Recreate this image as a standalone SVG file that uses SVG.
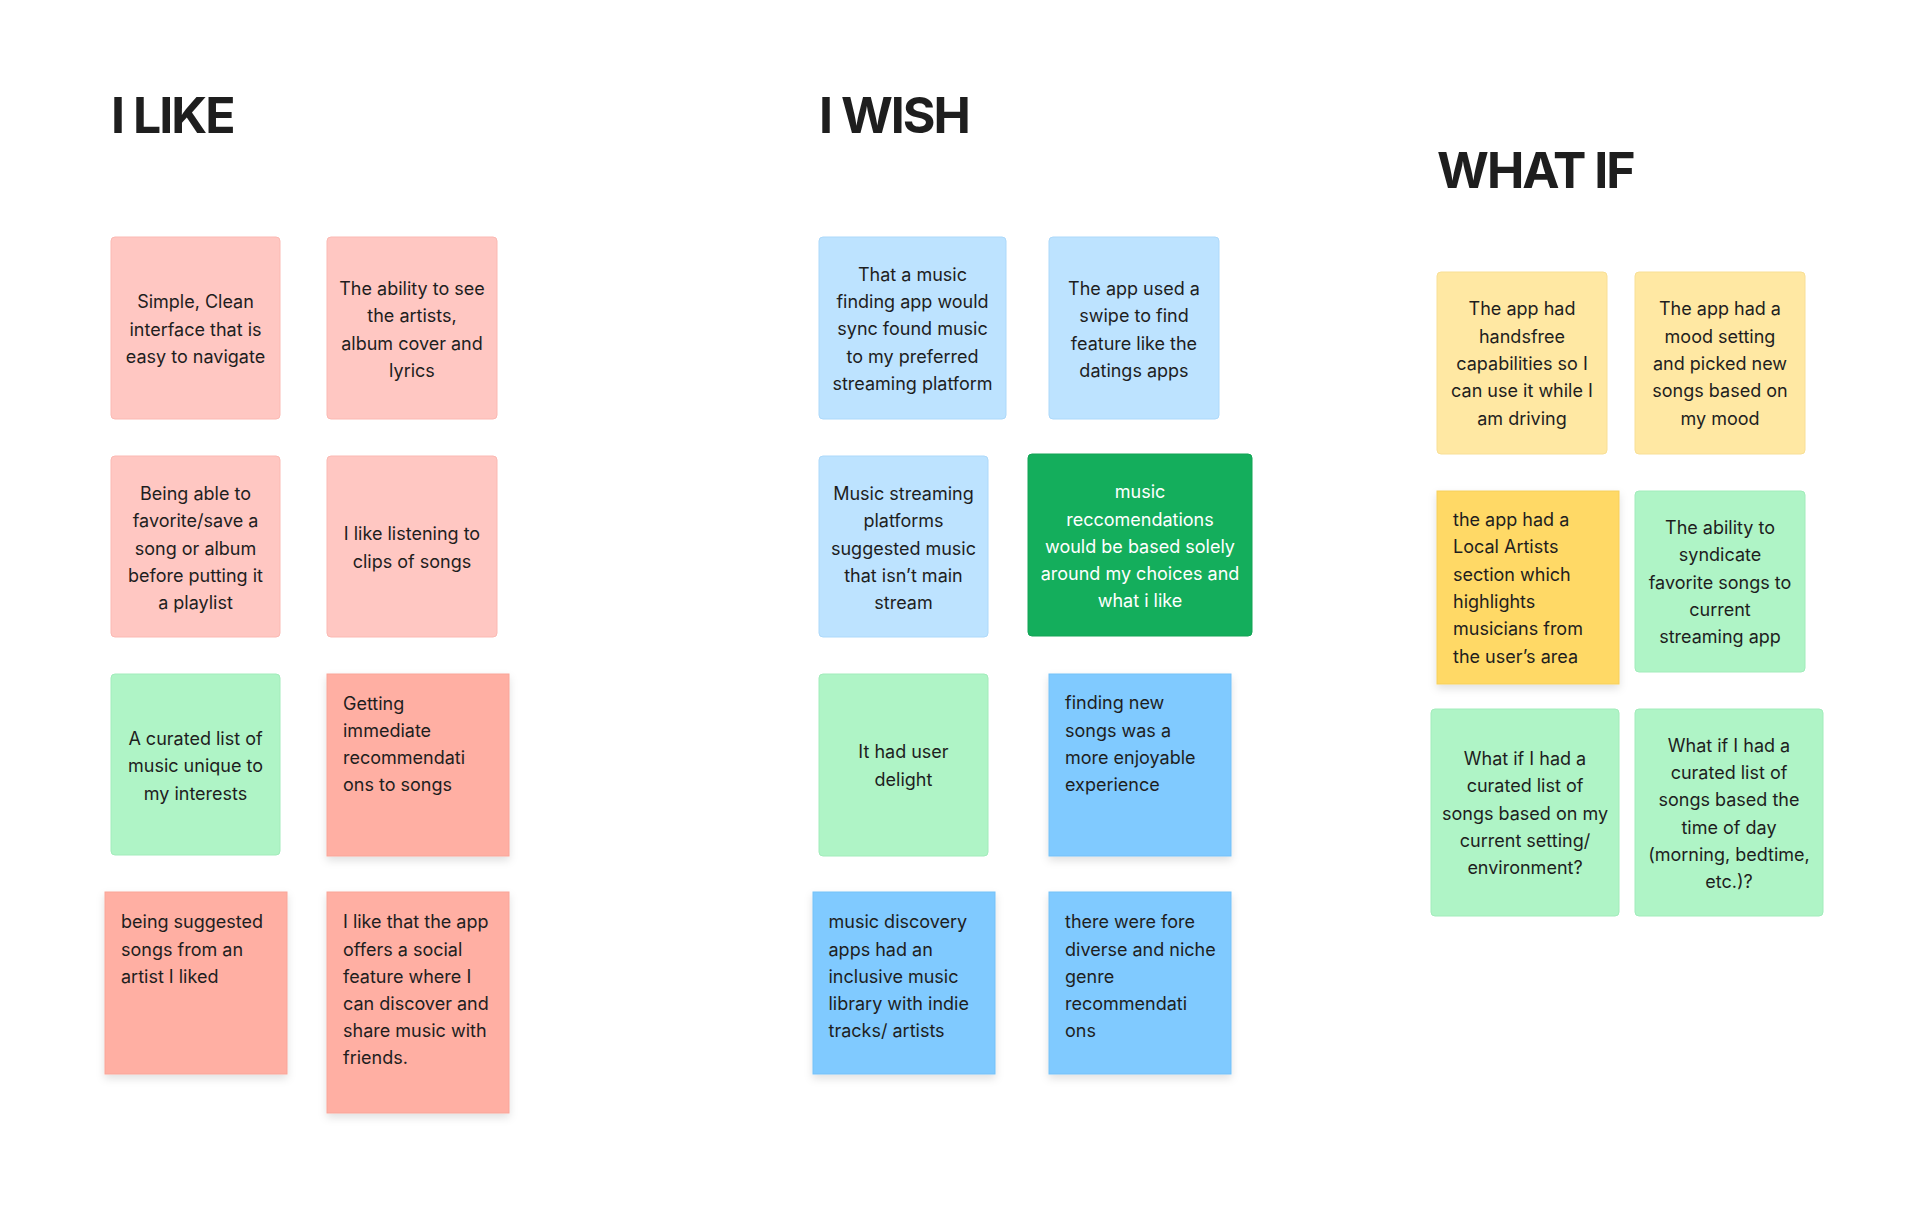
<svg xmlns="http://www.w3.org/2000/svg" width="1920" height="1224" viewBox="0 0 1920 1224">
<defs>
<style>
.title{font-family:Inter,"Liberation Sans",sans-serif;font-weight:700;font-size:50px;fill:#1e1e1e;letter-spacing:-2px}
.t{font-family:Inter,"Liberation Sans",sans-serif;font-size:18px;fill:#1e1e1e}
.c{text-anchor:middle}
.w{fill:#ffffff}
.pink{fill:#ffc7c2;stroke:#fbb9b3;stroke-width:1}
.salmon{fill:#ffafa3;stroke:#f9a598;stroke-width:1}
.lblue{fill:#bde3ff;stroke:#add9fa;stroke-width:1}
.blue{fill:#80caff;stroke:#74c1f8;stroke-width:1}
.lgreen{fill:#aff4c6;stroke:#a2ecbb;stroke-width:1}
.dgreen{fill:#14ae5c;stroke:#12a455;stroke-width:1}
.lyellow{fill:#ffe8a3;stroke:#f8df96;stroke-width:1}
.yellow{fill:#ffd966;stroke:#f6cf5c;stroke-width:1}
</style>
<filter id="sh" x="-20%" y="-20%" width="140%" height="150%">
<feDropShadow dx="0" dy="4" stdDeviation="4" flood-color="#000" flood-opacity="0.12"/>
</filter>
</defs>
<rect width="1920" height="1224" fill="#ffffff"/>

<text class="title" x="111" y="133">I LIKE</text>
<text class="title" x="819" y="133">I WISH</text>
<text class="title" x="1437" y="188">WHAT IF</text>

<g id="like1"><rect class="pink" x="111" y="237" width="169" height="182" rx="4"/>
<text class="t c" x="195.5"><tspan x="195.5" y="308">Simple, Clean</tspan><tspan x="195.5" y="335.5">interface that is</tspan><tspan x="195.5" y="362.5">easy to navigate</tspan></text></g>

<g id="like2"><rect class="pink" x="327" y="237" width="170" height="182" rx="4"/>
<text class="t c"><tspan x="412" y="295">The ability to see</tspan><tspan x="412" y="322.3">the artists,</tspan><tspan x="412" y="349.5">album cover and</tspan><tspan x="412" y="376.5">lyrics</tspan></text></g>

<g id="like3"><rect class="pink" x="111" y="456" width="169" height="181" rx="4"/>
<text class="t c"><tspan x="195.5" y="500">Being able to</tspan><tspan x="195.5" y="527.3">favorite/save a</tspan><tspan x="195.5" y="554.5">song or album</tspan><tspan x="195.5" y="581.7">before putting it</tspan><tspan x="195.5" y="609">a playlist</tspan></text></g>

<g id="like4"><rect class="pink" x="327" y="456" width="170" height="181" rx="4"/>
<text class="t c"><tspan x="412" y="540">I like listening to</tspan><tspan x="412" y="567.5">clips of songs</tspan></text></g>

<g id="like5"><rect class="lgreen" x="111" y="674" width="169" height="181" rx="4"/>
<text class="t c"><tspan x="195.5" y="745">A curated list of</tspan><tspan x="195.5" y="772.3">music unique to</tspan><tspan x="195.5" y="799.5">my interests</tspan></text></g>

<g id="like6"><rect class="salmon" x="327" y="674" width="182" height="182" filter="url(#sh)"/>
<text class="t"><tspan x="343" y="710">Getting</tspan><tspan x="343" y="737">immediate</tspan><tspan x="343" y="764">recommendati</tspan><tspan x="343" y="791">ons to songs</tspan></text></g>

<g id="like7"><rect class="salmon" x="105" y="892" width="182" height="182" filter="url(#sh)"/>
<text class="t"><tspan x="121" y="928.3">being suggested</tspan><tspan x="121" y="955.7">songs from an</tspan><tspan x="121" y="982.7">artist I liked</tspan></text></g>

<g id="like8"><rect class="salmon" x="327" y="892" width="182" height="221" filter="url(#sh)"/>
<text class="t"><tspan x="343" y="928.3">I like that the app</tspan><tspan x="343" y="955.7">offers a social</tspan><tspan x="343" y="982.7">feature where I</tspan><tspan x="343" y="1010">can discover and</tspan><tspan x="343" y="1037.3">share music with</tspan><tspan x="343" y="1064.3">friends.</tspan></text></g>

<g id="wish1"><rect class="lblue" x="819" y="237" width="187" height="182" rx="4"/>
<text class="t c"><tspan x="912.5" y="280.7">That a music</tspan><tspan x="912.5" y="308.3">finding app would</tspan><tspan x="912.5" y="335.3">sync found music</tspan><tspan x="912.5" y="362.7">to my preferred</tspan><tspan x="912.5" y="390">streaming platform</tspan></text></g>

<g id="wish2"><rect class="lblue" x="1049" y="237" width="170" height="182" rx="4"/>
<text class="t c"><tspan x="1134" y="295">The app used a</tspan><tspan x="1134" y="322.3">swipe to find</tspan><tspan x="1134" y="349.5">feature like the</tspan><tspan x="1134" y="376.5">datings apps</tspan></text></g>

<g id="wish3"><rect class="lblue" x="819" y="456" width="169" height="181" rx="4"/>
<text class="t c"><tspan x="903.5" y="500">Music streaming</tspan><tspan x="903.5" y="527.3">platforms</tspan><tspan x="903.5" y="554.5">suggested music</tspan><tspan x="903.5" y="581.7">that isn’t main</tspan><tspan x="903.5" y="609">stream</tspan></text></g>

<g id="wish4"><rect class="dgreen" x="1028" y="454" width="224" height="182" rx="4"/>
<text class="t c w"><tspan x="1140" y="498.3">music</tspan><tspan x="1140" y="525.7">reccomendations</tspan><tspan x="1140" y="552.7">would be based solely</tspan><tspan x="1140" y="580">around my choices and</tspan><tspan x="1140" y="607">what i like</tspan></text></g>

<g id="wish5"><rect class="lgreen" x="819" y="674" width="169" height="182" rx="4"/>
<text class="t c"><tspan x="903.5" y="758.3">It had user</tspan><tspan x="903.5" y="785.7">delight</tspan></text></g>

<g id="wish6"><rect class="blue" x="1049" y="674" width="182" height="182" filter="url(#sh)"/>
<text class="t"><tspan x="1065" y="709.3">finding new</tspan><tspan x="1065" y="736.7">songs was a</tspan><tspan x="1065" y="764">more enjoyable</tspan><tspan x="1065" y="791">experience</tspan></text></g>

<g id="wish7"><rect class="blue" x="813" y="892" width="182" height="182" filter="url(#sh)"/>
<text class="t"><tspan x="828.5" y="928.3">music discovery</tspan><tspan x="828.5" y="955.7">apps had an</tspan><tspan x="828.5" y="982.7">inclusive music</tspan><tspan x="828.5" y="1010">library with indie</tspan><tspan x="828.5" y="1037.3">tracks/ artists</tspan></text></g>

<g id="wish8"><rect class="blue" x="1049" y="892" width="182" height="182" filter="url(#sh)"/>
<text class="t"><tspan x="1065" y="928.3">there were fore</tspan><tspan x="1065" y="955.7">diverse and niche</tspan><tspan x="1065" y="982.7">genre</tspan><tspan x="1065" y="1010">recommendati</tspan><tspan x="1065" y="1037.3">ons</tspan></text></g>

<g id="whatif1"><rect class="lyellow" x="1437" y="272" width="170" height="182" rx="4"/>
<text class="t c"><tspan x="1522" y="315">The app had</tspan><tspan x="1522" y="342.7">handsfree</tspan><tspan x="1522" y="370">capabilities so I</tspan><tspan x="1522" y="397.3">can use it while I</tspan><tspan x="1522" y="424.7">am driving</tspan></text></g>

<g id="whatif2"><rect class="lyellow" x="1635" y="272" width="170" height="182" rx="4"/>
<text class="t c"><tspan x="1720" y="315">The app had a</tspan><tspan x="1720" y="342.7">mood setting</tspan><tspan x="1720" y="370">and picked new</tspan><tspan x="1720" y="397.3">songs based on</tspan><tspan x="1720" y="424.7">my mood</tspan></text></g>

<g id="whatif3"><rect class="yellow" x="1437" y="491" width="182" height="193" filter="url(#sh)"/>
<text class="t"><tspan x="1453" y="526">the app had a</tspan><tspan x="1453" y="553.3">Local Artists</tspan><tspan x="1453" y="580.7">section which</tspan><tspan x="1453" y="608">highlights</tspan><tspan x="1453" y="635.3">musicians from</tspan><tspan x="1453" y="662.7">the user’s area</tspan></text></g>

<g id="whatif4"><rect class="lgreen" x="1635" y="491" width="170" height="181" rx="4"/>
<text class="t c"><tspan x="1720" y="534">The ability to</tspan><tspan x="1720" y="561.3">syndicate</tspan><tspan x="1720" y="588.7">favorite songs to</tspan><tspan x="1720" y="616">current</tspan><tspan x="1720" y="643.3">streaming app</tspan></text></g>

<g id="whatif5"><rect class="lgreen" x="1431" y="709" width="188" height="207" rx="4"/>
<text class="t c"><tspan x="1525" y="765">What if I had a</tspan><tspan x="1525" y="792.3">curated list of</tspan><tspan x="1525" y="819.7">songs based on my</tspan><tspan x="1525" y="847">current setting/</tspan><tspan x="1525" y="874.3">environment?</tspan></text></g>

<g id="whatif6"><rect class="lgreen" x="1635" y="709" width="188" height="207" rx="4"/>
<text class="t c"><tspan x="1729" y="751.7">What if I had a</tspan><tspan x="1729" y="779">curated list of</tspan><tspan x="1729" y="806.3">songs based the</tspan><tspan x="1729" y="833.7">time of day</tspan><tspan x="1729" y="861">(morning, bedtime,</tspan><tspan x="1729" y="888.3">etc.)?</tspan></text></g>

<g id="connectors"></g>
</svg>
